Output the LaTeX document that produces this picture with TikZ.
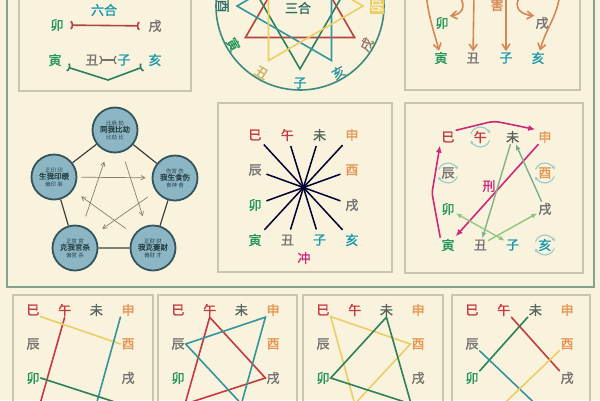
\documentclass[tikz,border=0pt]{standalone}
\usepackage{fontspec}
\newfontfamily\cjk{Noto Sans CJK SC}[AutoFakeBold=1.5]
\usetikzlibrary{positioning, calc, arrows.meta}
\definecolor{paper}{RGB}{249,242,220}
\definecolor{framec}{RGB}{128,164,140}
\definecolor{boxline}{RGB}{200,198,176}
\definecolor{fire}{RGB}{196,58,66}
\definecolor{wood}{RGB}{36,150,92}
\definecolor{earth}{RGB}{118,116,114}
\definecolor{goat}{RGB}{86,102,92}
\definecolor{water}{RGB}{24,152,172}
\definecolor{metal}{RGB}{230,150,84}
\definecolor{clash}{RGB}{206,40,120}
\definecolor{harm}{RGB}{214,136,84}
\definecolor{orb}{RGB}{140,182,196}
\definecolor{orbline}{RGB}{52,84,92}
\definecolor{starline}{RGB}{140,124,108}
\definecolor{ringc}{RGB}{150,204,200}
\definecolor{leaf}{RGB}{150,200,130}
\definecolor{moss}{RGB}{120,176,140}
\definecolor{sun}{RGB}{236,206,100}
\definecolor{sea}{RGB}{52,150,156}
\definecolor{pine}{RGB}{44,128,92}
\definecolor{rust}{RGB}{180,66,62}
\definecolor{teal}{RGB}{60,138,126}
\tikzset{%
  br/.style = {font=\cjk\bfseries\fontsize{13}{13}\selectfont, inner sep=1pt},
  panel/.style = {draw=boxline, line width=1.2pt},
  outer/.style = {draw=framec, line width=1.5pt},
  band/.style = {line width=1.6pt, line cap=round},
  bond/.style = {line width=1.6pt,
                 {Arc Barb[reversed, length=2.5pt, width=9pt]}-{Arc Barb[reversed, length=2.5pt, width=9pt]}},
  chong/.style = {draw=black!80!blue, line width=1.5pt, shorten <=4pt, shorten >=4pt},
  orbit/.style = {circle, draw=orbline, line width=1.8pt, fill=orb, minimum size=45pt,
                  inner sep=0pt, align=center, text=orbline!80!black,
                  font=\cjk\fontsize{5.5}{7}\selectfont},
  kill/.style = {draw=starline, line width=0.7pt, -{Straight Barb[length=4pt,width=4.5pt]},
                 shorten <=10pt, shorten >=10pt},
  hurt/.style = {draw=harm, line width=1.6pt, -{Straight Barb[length=6pt,width=8pt]}},
  xing/.style = {draw=clash, line width=1.6pt, -{Latex[length=7pt,width=6pt]}, shorten >=2pt},
  sprout/.style = {line width=1.4pt, -{Latex[length=6pt,width=5pt]}},
  spin/.style = {draw=ringc, line width=1.1pt, -{Latex[length=3pt,width=3.5pt]}},
}
% top three rows of the branch square
\newcommand\dizhitop[5]{%
  \node[br, text=fire]  (#1si)   at (#2,#3)                 {巳};
  \node[br, text=fire]  (#1wu)   at ({#2+#4},#3)            {午};
  \node[br, text=goat]  (#1wei)  at ({#2+2*#4},#3)          {未};
  \node[br, text=metal] (#1shen) at ({#2+3*#4},#3)          {申};
  \node[br, text=earth] (#1chen) at (#2,{#3+#5})            {辰};
  \node[br, text=metal] (#1you)  at ({#2+3*#4},{#3+#5})     {酉};
  \node[br, text=wood]  (#1mao)  at (#2,{#3+2*#5})          {卯};
  \node[br, text=earth] (#1xu)   at ({#2+3*#4},{#3+2*#5})   {戌};
}
% full square of twelve
\newcommand\dizhi[5]{%
  \dizhitop{#1}{#2}{#3}{#4}{#5}
  \node[br, text=wood]  (#1yin)  at (#2,{#3+3*#5})          {寅};
  \node[br, text=earth] (#1chou) at ({#2+#4},{#3+3*#5})     {丑};
  \node[br, text=water] (#1zi)   at ({#2+2*#4},{#3+3*#5})   {子};
  \node[br, text=water] (#1hai)  at ({#2+3*#4},{#3+3*#5})   {亥};
}
% bottom row lies below the page: only its points
\newcommand\dizhicut[5]{%
  \dizhitop{#1}{#2}{#3}{#4}{#5}
  \coordinate (#1yin)  at (#2,{#3+3*#5-8});
  \coordinate (#1chou) at ({#2+#4},{#3+3*#5-8});
  \coordinate (#1zi)   at ({#2+2*#4},{#3+3*#5-8});
  \coordinate (#1hai)  at ({#2+3*#4},{#3+3*#5-8});
}
\newcommand\ringmark[1]{%
  \draw[spin] (#1.center) ++(200:10) arc[start angle=200, end angle=340, radius=10];
  \draw[spin] (#1.center) ++(20:10) arc[start angle=20, end angle=160, radius=10];
}
\begin{document}
\begin{tikzpicture}[x=1pt, y=-1pt, >=latex]
  \useasboundingbox (0,0) rectangle (600,400);
  \fill[paper] (0,0) rectangle (600,400);
  \clip (0,0) rectangle (600,400);

  \draw[outer] (7,-5) |- (594,287) -- (594,-5);

  % liu he
  \draw[panel] (19,-5) rectangle (191,91);
  \node[br, text=water] (liuhe) at (104,10) {六合};
  \node[br, text=wood]  (lhmao)  at (57,25)  {卯};
  \node[br, text=earth] (lhxu)   at (155,26) {戌};
  \node[br, text=wood]  (lhyin)  at (55,60)  {寅};
  \node[br, text=earth] (lhchou) at (92,60)  {丑};
  \node[br, text=water] (lhzi)   at (124,60) {子};
  \node[br, text=water] (lhhai)  at (155,60) {亥};
  \coordinate (lhdip) at (108,80);
  \draw[bond, draw=rust, shorten <=6pt, shorten >=8pt] (lhmao) -- (lhxu);
  \draw[bond, draw=earth, line width=1.2pt] (lhchou) -- (lhzi);
  \draw[bond, draw=pine] ([xshift=5pt]lhyin.south east) -- (lhdip) -- ([xshift=-5pt]lhhai.south west);

  % san he
  \coordinate (sanhe) at (300,6);
  \draw[teal, line width=1.6pt] (sanhe) circle[radius=84];
  \draw[band, draw=rust]  ($(sanhe)+(-90:63)$) -- ($(sanhe)+(150:63)$) -- ($(sanhe)+(30:63)$) -- cycle;
  \draw[band, draw=pine]  ($(sanhe)+(90:63)$) -- ($(sanhe)+(-30:63)$) -- ($(sanhe)+(-150:63)$) -- cycle;
  \draw[band, draw=sea]   ($(sanhe)+(180:63)$) -- ($(sanhe)+(60:63)$) -- ($(sanhe)+(-60:63)$) -- cycle;
  \draw[band, draw=sun]   ($(sanhe)+(0:63)$) -- ($(sanhe)+(120:63)$) -- ($(sanhe)+(-120:63)$) -- cycle;
  \node[br, text=teal!80!black] (sanhel) at (298,8) {三合};
  \node[br, text=teal!80!black, rotate=-90] (shyou)  at ($(sanhe)+(180:77)$) {酉};
  \node[br, text=wood, rotate=-60]          (shyin)  at ($(sanhe)+(150:77)$) {寅};
  \node[br, text=sun!70!earth, rotate=-30]  (shchou) at ($(sanhe)+(120:77)$) {丑};
  \node[br, text=water]                     (shzi)   at ($(sanhe)+(90:77)$)  {子};
  \node[br, text=sea, rotate=30]            (shhai)  at ($(sanhe)+(60:77)$)  {亥};
  \node[br, text=earth!70!metal, rotate=60] (shxu)   at ($(sanhe)+(30:77)$)  {戌};
  \node[br, fill=sun, text=paper, rotate=90] (shmao) at ($(sanhe)+(0:77)$)   {卯};

  % hai
  \draw[panel] (405,-5) rectangle (580,90);
  \node[br, text=harm] (hail) at (497,5) {害};
  \node[br, text=wood]  (hmao)  at (442,23) {卯};
  \node[br, text=earth] (hxu)   at (542,23) {戌};
  \node[br, text=wood]  (hyin)  at (441,58) {寅};
  \node[br, text=earth] (hchou) at (473,58) {丑};
  \node[br, text=water] (hzi)   at (506,58) {子};
  \node[br, text=water] (hhai)  at (538,58) {亥};
  \coordinate (hsrc1) at (426,-8);
  \coordinate (hsrc2) at (455,-8);
  \coordinate (hsrc3) at (474,-8);
  \coordinate (hsrc4) at (506,-8);
  \coordinate (hsrc5) at (524,-8);
  \coordinate (hsrc6) at (560,-8);
  \draw[hurt] (hsrc1) to[out=-85, in=105] (hyin);
  \draw[hurt] (hsrc2) .. controls (467,2) and (465,14) .. (hmao.north east);
  \draw[hurt] (hsrc3) -- (hchou);
  \draw[hurt] (hsrc4) -- (hzi);
  \draw[hurt] (hsrc5) .. controls (513,2) and (515,14) .. (hxu.north west);
  \draw[hurt] (hsrc6) to[out=-95, in=75] (hhai);

  % ten gods
  \node[orbit] (bijie)    at (115,130) {比肩\ 劫\\{\fontsize{7.5}{9}\selectfont\bfseries 同我比劫}\\比劫\ 比};
  \node[orbit] (shishang) at (175,178) {伤官\ 伤\\{\fontsize{7.5}{9}\selectfont\bfseries 我生食伤}\\食神\ 食};
  \node[orbit] (qicai)    at (153,248) {正财\ 财\\{\fontsize{7.5}{9}\selectfont\bfseries 我克妻财}\\偏财\ 才};
  \node[orbit] (guansha)  at (75,248)  {正官\ 官\\{\fontsize{7.5}{9}\selectfont\bfseries 克我官杀}\\偏官\ 杀};
  \node[orbit] (yinshou)  at (54,177)  {正印\ 印\\{\fontsize{7.5}{9}\selectfont\bfseries 生我印绶}\\偏印\ 枭};
  \draw[draw=black!75, line width=1.2pt] (bijie) -- (shishang) -- (qicai) -- (guansha) -- (yinshou) -- (bijie);
  \path (yinshou)  edge[kill, shorten <=4pt, shorten >=6pt] (shishang)
        (shishang) edge[kill] (guansha)
        (bijie)    edge[kill] (qicai)
        (guansha)  edge[kill] (bijie)
        (qicai)    edge[kill] (yinshou);

  % chong
  \draw[panel] (218,103) rectangle (392,272);
  \dizhi{c}{255}{135}{32.3}{35}
  \node[br, text=clash] (chongl) at (304,258) {冲};
  \path (csi)   edge[chong] (chai)
        (cwu)   edge[chong] (czi)
        (cwei)  edge[chong] (cchou)
        (cshen) edge[chong] (cyin)
        (cchen) edge[chong] (cxu)
        (cmao)  edge[chong] (cyou);
  \coordinate (chub) at ($(csi)!0.5!(chai)$);
  \fill[black!80!blue] (chub) circle[radius=2.8];

  % xing
  \draw[panel] (405,103) rectangle (583,273);
  \dizhi{x}{448}{137}{32.3}{36}
  \ringmark{xwu}
  \ringmark{xchen}
  \ringmark{xyou}
  \ringmark{xhai}
  \coordinate (xk1) at (432,193);
  \coordinate (xk2) at (494,121);
  \draw[xing, rounded corners=3pt] (xyin.north west) -- (xk1) -- (xsi.south west);
  \draw[xing, rounded corners=6pt] (xsi.north east) -- (xk2) -- (xshen.north west);
  \draw[xing] (xshen) -- (xyin);
  \node[br, text=clash] (xingl) at (489,186) {刑};
  \draw[sprout, draw=moss] (xxu) -- (xwei);
  \draw[sprout, draw=moss!80!leaf] (xwei) -- (xchou);
  \draw[sprout, draw=leaf!80!moss] (xchou) -- (xxu);
  \draw[sprout, draw=leaf, {Latex[length=6pt,width=5pt]}-{Latex[length=6pt,width=5pt]}] (xmao) -- (xzi);

  % ban he, four panels
  \draw[panel] (13,295) rectangle (153,420);
  \draw[panel] (158,295) rectangle (297,420);
  \draw[panel] (303,295) rectangle (443,420);
  \draw[panel] (452,295) rectangle (590,420);
  \dizhicut{bh1}{33}{310}{31.7}{34}
  \dizhicut{bh2}{178}{310}{31.7}{34}
  \dizhicut{bh3}{323}{310}{31.7}{34}
  \dizhicut{bh4}{472}{310}{31.7}{34}

  \draw[band, draw=fire]  (bh1wu.south) -- ([xshift=7pt]bh1yin);
  \draw[band, draw=sun]   (bh1si.south east) -- (bh1you.west);
  \draw[band, draw=sea]   (bh1shen.south west) -- (bh1zi);
  \draw[band, draw=pine]  (bh1mao.east) -- ([xshift=-7pt]bh1hai);

  \draw[band, draw=fire]  (bh2wu.south) -- (bh2xu.west) -- ([xshift=7pt]bh2yin) -- cycle;
  \draw[band, draw=sea]   (bh2shen.south west) -- (bh2chen.east) -- (bh2zi) -- cycle;

  \draw[band, draw=sun]   (bh3si.south east) -- (bh3you.west) -- (bh3chou) -- cycle;
  \draw[band, draw=pine]  (bh3wei.south) -- (bh3mao.east) -- ([xshift=-7pt]bh3hai) -- cycle;

  \draw[band, draw=fire]  (bh4wu.south east) -- (bh4xu.north west);
  \draw[band, draw=pine]  (bh4wei.south west) -- (bh4mao.north east);
  \draw[band, draw=sea]   (bh4chen.south east) -- (bh4zi);
  \draw[band, draw=sun]   (bh4you.south west) -- (bh4chou);
\end{tikzpicture}
\end{document}
